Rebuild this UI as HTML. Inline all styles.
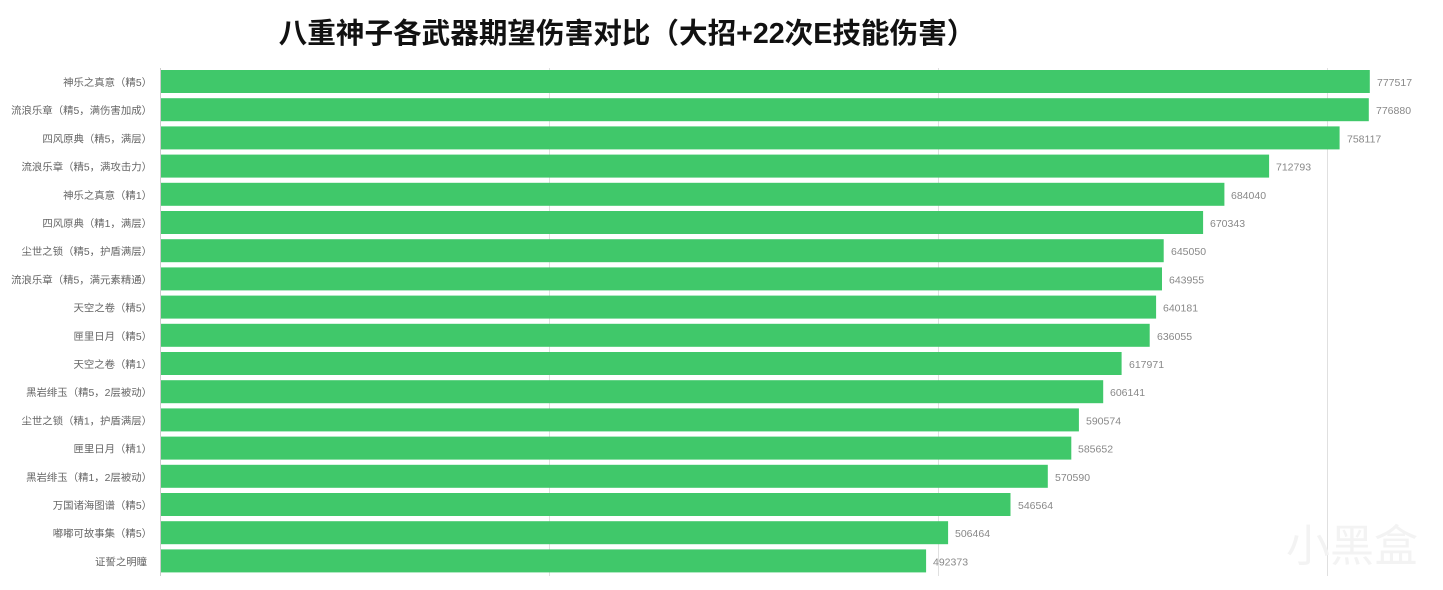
<!DOCTYPE html>
<html><head><meta charset="utf-8"><style>
html,body{margin:0;padding:0;background:#fff;width:1443px;height:590px;overflow:hidden}
svg{display:block}
</style></head><body>
<svg width="1443" height="590" xmlns="http://www.w3.org/2000/svg" font-family="Liberation Sans, Noto Sans CJK SC, sans-serif">
<text x="627" y="43" text-anchor="middle" font-size="28.6" font-weight="bold" fill="#111">八重神子各武器期望伤害对比（大招+22次E技能伤害）</text>
<g stroke="#e0e0e0" stroke-width="1">
<line x1="549.5" y1="68" x2="549.5" y2="576"/>
<line x1="938.5" y1="68" x2="938.5" y2="576"/>
<line x1="1327.5" y1="68" x2="1327.5" y2="576"/>
</g>
<line x1="160.5" y1="68" x2="160.5" y2="576" stroke="#ccc"/>
<g fill="#40c86a">
<rect x="161" y="70" width="1208.8" height="23"/>
<rect x="161" y="98.2" width="1207.8" height="23"/>
<rect x="161" y="126.4" width="1178.6" height="23"/>
<rect x="161" y="154.6" width="1108.1" height="23"/>
<rect x="161" y="182.8" width="1063.4" height="23"/>
<rect x="161" y="211" width="1042.1" height="23"/>
<rect x="161" y="239.2" width="1002.7" height="23"/>
<rect x="161" y="267.4" width="1001" height="23"/>
<rect x="161" y="295.6" width="995.1" height="23"/>
<rect x="161" y="323.8" width="988.7" height="23"/>
<rect x="161" y="352" width="960.6" height="23"/>
<rect x="161" y="380.2" width="942.2" height="23"/>
<rect x="161" y="408.4" width="917.9" height="23"/>
<rect x="161" y="436.6" width="910.3" height="23"/>
<rect x="161" y="464.8" width="886.8" height="23"/>
<rect x="161" y="493" width="849.5" height="23"/>
<rect x="161" y="521.2" width="787.1" height="23"/>
<rect x="161" y="549.4" width="765.1" height="23"/>
</g>
<g font-size="10.4" fill="#666" text-anchor="end">
<text x="152" y="86">神乐之真意（精5）</text>
<text x="152" y="114.2">流浪乐章（精5，满伤害加成）</text>
<text x="152" y="142.4">四风原典（精5，满层）</text>
<text x="152" y="170.6">流浪乐章（精5，满攻击力）</text>
<text x="152" y="198.8">神乐之真意（精1）</text>
<text x="152" y="227">四风原典（精1，满层）</text>
<text x="152" y="255.2">尘世之锁（精5，护盾满层）</text>
<text x="152" y="283.4">流浪乐章（精5，满元素精通）</text>
<text x="152" y="311.6">天空之卷（精5）</text>
<text x="152" y="339.8">匣里日月（精5）</text>
<text x="152" y="368">天空之卷（精1）</text>
<text x="152" y="396.2">黑岩绯玉（精5，2层被动）</text>
<text x="152" y="424.4">尘世之锁（精1，护盾满层）</text>
<text x="152" y="452.6">匣里日月（精1）</text>
<text x="152" y="480.8">黑岩绯玉（精1，2层被动）</text>
<text x="152" y="509">万国诸海图谱（精5）</text>
<text x="152" y="537.2">嘟嘟可故事集（精5）</text>
<text x="147" y="565.4">证誓之明瞳</text>
</g>
<g font-size="10.5" fill="#888">
<text x="1377" y="86">777517</text>
<text x="1376" y="114.2">776880</text>
<text x="1347" y="142.4">758117</text>
<text x="1276" y="170.6">712793</text>
<text x="1231" y="198.8">684040</text>
<text x="1210" y="227">670343</text>
<text x="1171" y="255.2">645050</text>
<text x="1169" y="283.4">643955</text>
<text x="1163" y="311.6">640181</text>
<text x="1157" y="339.8">636055</text>
<text x="1129" y="368">617971</text>
<text x="1110" y="396.2">606141</text>
<text x="1086" y="424.4">590574</text>
<text x="1078" y="452.6">585652</text>
<text x="1055" y="480.8">570590</text>
<text x="1018" y="509">546564</text>
<text x="955" y="537.2">506464</text>
<text x="933" y="565.4">492373</text>
</g>
<text x="1286" y="561" font-size="44" fill="#f3f3f3" font-family="Noto Sans CJK SC, sans-serif">小黑盒</text>
</svg>
</body></html>
